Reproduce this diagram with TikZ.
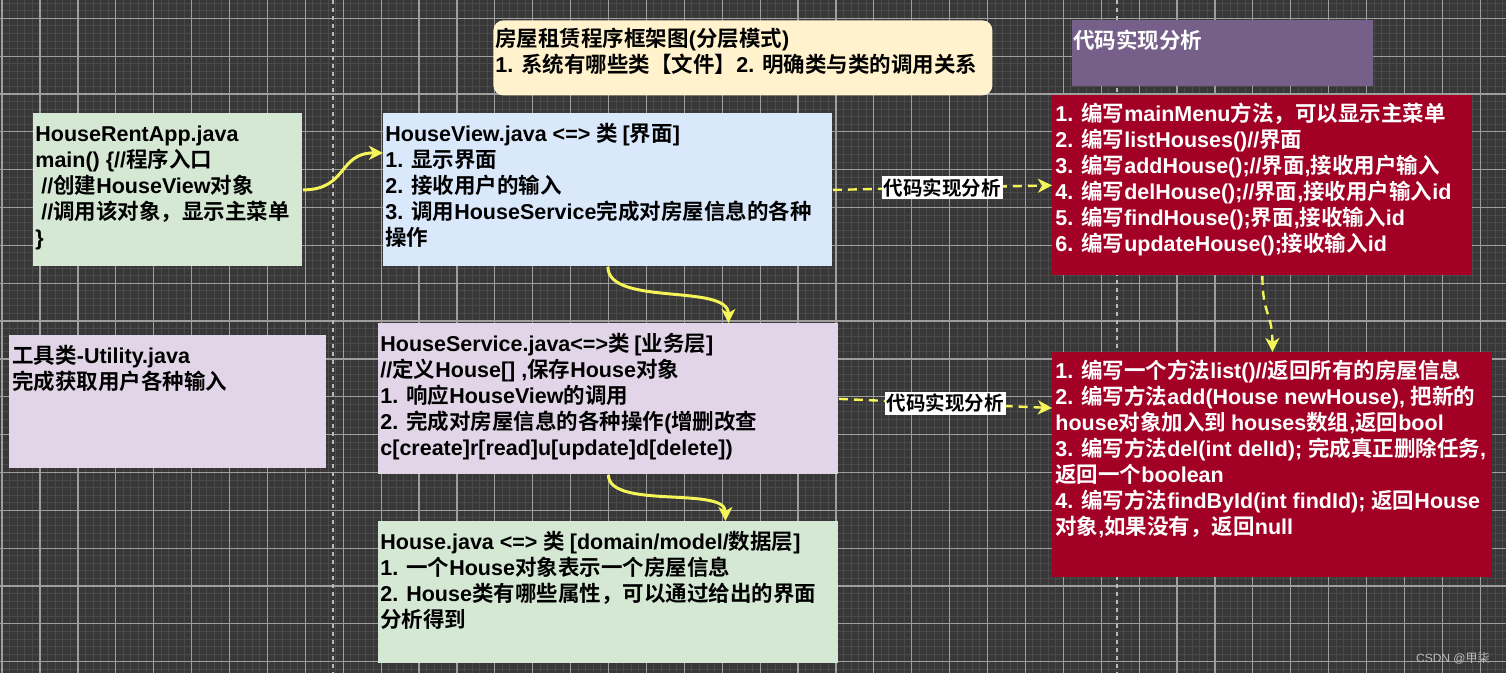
\documentclass[tikz,border=0pt]{standalone}
\usepackage{fontspec}
\setmainfont{Liberation Sans}
\newfontfamily\latinfont{Liberation Sans}
\newfontfamily\cjkfont{Noto Sans CJK SC}[BoldFont={Noto Sans CJK SC Bold}]
\usetikzlibrary{arrows.meta,calc}
% automatic switch between Latin and CJK fonts
\chardef\cjkcls=10
\newcount\cjkcc
\cjkcc="4E00 \loop \XeTeXcharclass\cjkcc=\cjkcls \ifnum\cjkcc<"9FFF \advance\cjkcc by 1 \repeat
\cjkcc="3000 \loop \XeTeXcharclass\cjkcc=\cjkcls \ifnum\cjkcc<"303F \advance\cjkcc by 1 \repeat
\cjkcc="FF00 \loop \XeTeXcharclass\cjkcc=\cjkcls \ifnum\cjkcc<"FFEF \advance\cjkcc by 1 \repeat
\XeTeXinterchartoks 0 \cjkcls = {\cjkfont}
\XeTeXinterchartoks 4095 \cjkcls = {\cjkfont}
\XeTeXinterchartoks \cjkcls 0 = {\latinfont}
\XeTeXinterchartoks 4095 0 = {\latinfont}
\XeTeXinterchartokenstate=1
\newcommand\bfs{\fontsize{10.75pt}{13pt}\selectfont\bfseries}
\newcommand\tst{\rule{0pt}{10pt}}
\definecolor{bgc}{HTML}{383838}
\definecolor{minorc}{HTML}{4A4A4A}
\definecolor{majorc}{HTML}{9E9E9E}
\definecolor{greenf}{HTML}{D5E8D4}
\definecolor{bluef}{HTML}{DAE8FC}
\definecolor{lilacf}{HTML}{E1D5E7}
\definecolor{creamf}{HTML}{FFF2CC}
\definecolor{purpled}{HTML}{76608A}
\definecolor{redf}{HTML}{A20025}
\definecolor{yel}{HTML}{F5F55A}
\definecolor{wmark}{HTML}{BDBDBD}
\begin{document}
\begin{tikzpicture}[x=0.5pt,y=-0.5pt,
  box/.style={draw=none,inner sep=0pt,anchor=north west},
  txt/.style={inner sep=0pt,anchor=north west,align=left,font=\bfs},
  minorline/.style={draw=minorc,line width=0.5pt},
  majorline/.style={draw=majorc,line width=0.6pt},
  pgbrk/.style={draw=majorc!70!white,line width=0.6pt,dash pattern=on 2pt off 2pt},
  ycurve/.style={draw=yel,line width=1.5pt,-{Stealth[length=7pt,width=7pt,inset=2pt]}},
  ydash/.style={draw=yel,line width=1.2pt,dash pattern=on 4.5pt off 3pt,-{Stealth[length=7pt,width=7pt,inset=2pt]}},
  lbl/.style={fill=white,text=black,inner sep=1pt,font=\fontsize{9.75pt}{11pt}\selectfont\bfseries}]
\useasboundingbox (0,0) rectangle (1506,673);
% background and grid
\fill[bgc] (0,0) rectangle (1506,673);
\foreach \i [evaluate=\i as \xx using 2.1+7.58*\i] in {0,...,198}
  \draw[minorline] (\xx,0) -- (\xx,673);
\foreach \i [evaluate=\i as \yy using 3.16+7.57*\i] in {0,...,88}
  \draw[minorline] (0,\yy) -- (1506,\yy);
\foreach \i [evaluate=\i as \xx using 2.1+37.9*\i] in {0,...,39}
  \draw[majorline] (\xx,0) -- (\xx,673);
\foreach \i [evaluate=\i as \yy using 18.3+37.85*\i] in {0,...,17}
  \draw[majorline] (0,\yy) -- (1506,\yy);
\draw[pgbrk] (333,0) -- (333,673);
\draw[pgbrk] (1117,0) -- (1117,673);

% boxes
\node[box,fill=creamf,rounded corners=5pt,minimum width=249.5pt,minimum height=37.5pt] (title) at (493,20) {};
\node[txt,text=black] (titlet) at (495,26) {\tst 房屋租赁程序框架图(分层模式)\\1. 系统有哪些类【文件】2. 明确类与类的调用关系};

\node[box,fill=purpled,minimum width=150.5pt,minimum height=33pt] (code) at (1072,20) {};
\node[txt,text=white] (codet) at (1073,28) {\tst 代码实现分析};

\node[box,fill=greenf,minimum width=134.5pt,minimum height=76.5pt] (app) at (33,113) {};
\node[txt,text=black] (appt) at (35,121) {\tst HouseRentApp.java\\main() \{//程序入口\\\ //创建HouseView对象\\\ //调用该对象，显示主菜单\\\}};

\node[box,fill=bluef,minimum width=224.5pt,minimum height=76.5pt] (hv) at (383,113) {};
\node[txt,text=black] (hvt) at (385,121) {\tst HouseView.java <=> 类 [界面]\\1. 显示界面\\2. 接收用户的输入\\3. 调用HouseService完成对房屋信息的各种\\操作};

\node[box,fill=lilacf,minimum width=158.5pt,minimum height=66.5pt] (util) at (9,335) {};
\node[txt,text=black] (utilt) at (12,343) {\tst 工具类-Utility.java\\完成获取用户各种输入};

\node[box,fill=lilacf,minimum width=230pt,minimum height=75.5pt] (hs) at (378,323) {};
\node[txt,text=black] (hst) at (380,331) {\tst HouseService.java<=>类 [业务层]\\//定义House[] ,保存House对象\\1. 响应HouseView的调用\\2. 完成对房屋信息的各种操作(增删改查\\c[create]r[read]u[update]d[delete])};

\node[box,fill=greenf,minimum width=230pt,minimum height=71pt] (house) at (378,521) {};
\node[txt,text=black] (houset) at (380,529) {\tst House.java <=> 类 [domain/model/数据层]\\1. 一个House对象表示一个房屋信息\\2. House类有哪些属性，可以通过给出的界面\\分析得到};

\node[box,fill=redf,minimum width=210pt,minimum height=90pt] (r1) at (1052,95) {};
\node[txt,text=white] (r1t) at (1055,101) {\tst 1. 编写mainMenu方法，可以显示主菜单\\2. 编写listHouses()//界面\\3. 编写addHouse();//界面,接收用户输入\\4. 编写delHouse();//界面,接收用户输入id\\5. 编写findHouse();界面,接收输入id\\6. 编写updateHouse();接收输入id};

\node[box,fill=redf,minimum width=220pt,minimum height=112.5pt] (r2) at (1052,352) {};
\node[txt,text=white] (r2t) at (1055,358) {\tst 1. 编写一个方法list()//返回所有的房屋信息\\2. 编写方法add(House newHouse), 把新的\\house对象加入到 houses数组,返回bool\\3. 编写方法del(int delId); 完成真正删除任务,\\返回一个boolean\\4. 编写方法findById(int findId); 返回House\\对象,如果没有，返回null};

% connectors
\draw[ycurve] (app.east) .. controls +(45,0) and +(-45,0) .. ($(hv.west)+(0,-37)$);
\draw[ycurve] (hv.south) .. controls +(0,40) and +(0,-40) .. ($(hs.north)+(120,0)$);
\draw[ycurve] (hs.south) .. controls +(0,35) and +(0,-35) .. ($(house.north)+(117,0)$);
\draw[ydash] (hv.east) -- node[lbl] (l1) {代码实现分析} (r1.west);
\draw[ydash] (hs.east) -- node[lbl] (l2) {代码实现分析} ($(r2.north west)+(0,56)$);
\draw[ydash] (r1.south) .. controls +(0,40) and +(0,-40) .. (r2.north);

% watermark
\node[inner sep=0pt,anchor=base east,text=wmark,font=\fontsize{6pt}{7pt}\selectfont] (wm) at (1490,662) {CSDN @甲柒};
\end{tikzpicture}
\end{document}
